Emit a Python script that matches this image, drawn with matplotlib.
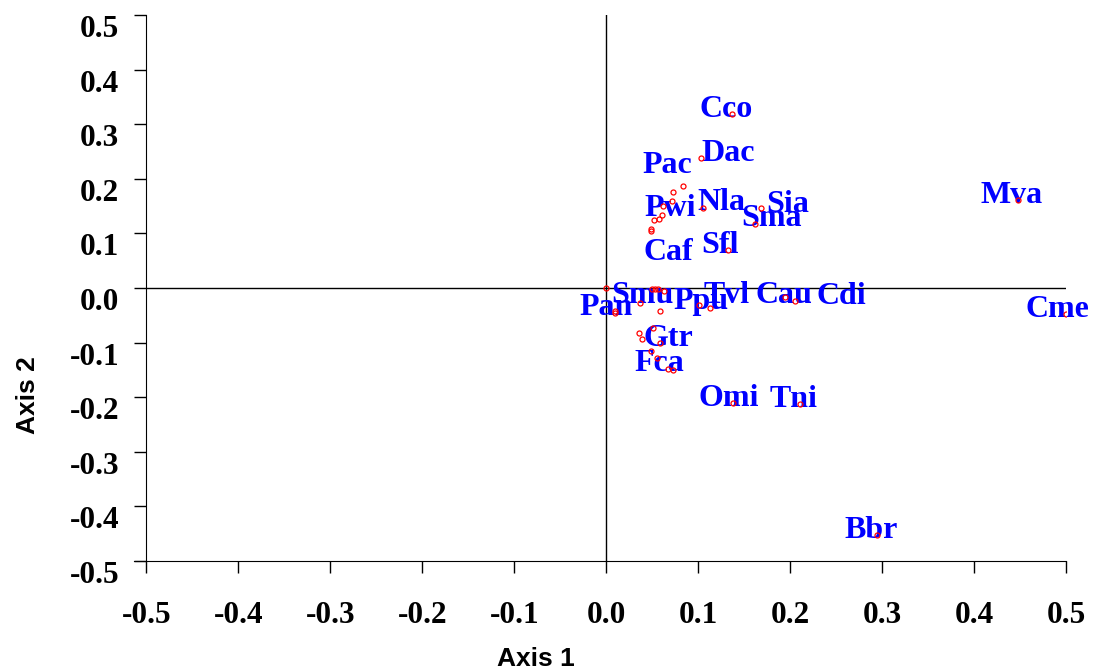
import numpy as np
import matplotlib.pyplot as plt

# Species labels (blue text) - position of label centre / baseline
species = ['Cco', 'Dac', 'Pac', 'Pwi', 'Nla', 'Sia', 'Sma', 'Sfl', 'Caf', 'Mva',
           'Cme', 'Cdi', 'Cau', 'Tvl', 'Ppu', 'Smu', 'Pan', 'Gtr', 'Fca', 'Omi',
           'Tni', 'Bbr']
sp_x = [0.130, 0.132, 0.066, 0.069, 0.125, 0.197, 0.180, 0.124, 0.068, 0.440,
        0.490, 0.256, 0.193, 0.131, 0.103, 0.039, 0.000, 0.068, 0.058, 0.133,
        0.204, 0.288]
sp_y = [0.313, 0.233, 0.211, 0.131, 0.142, 0.140, 0.114, 0.064, 0.051, 0.156,
        -0.053, -0.029, -0.027, -0.028, -0.039, -0.027, -0.049, -0.106, -0.152, -0.216,
        -0.218, -0.458]

# Site scores (red open circles)
site_x = [0.137, 0.103, 0.083, 0.072, 0.071, 0.062, 0.105, 0.060, 0.057, 0.052,
          0.049, 0.049, 0.168, 0.162, 0.132, 0.447, 0.500, 0.000, 0.050, 0.053,
          0.056, 0.063, 0.037, 0.009, 0.009, 0.058, 0.101, 0.113, 0.194, 0.205,
          0.035, 0.039, 0.051, 0.058, 0.049, 0.055, 0.067, 0.072, 0.138, 0.211,
          0.294]
site_y = [0.319, 0.238, 0.186, 0.175, 0.159, 0.150, 0.146, 0.134, 0.127, 0.124,
          0.108, 0.104, 0.147, 0.118, 0.069, 0.161, -0.048, 0.000, -0.001, -0.001,
          -0.001, -0.006, -0.027, -0.043, -0.046, -0.042, -0.032, -0.037, -0.017, -0.023,
          -0.082, -0.093, -0.074, -0.100, -0.115, -0.128, -0.149, -0.151, -0.210, -0.213,
          -0.452]

ticks = [-0.5, -0.4, -0.3, -0.2, -0.1, 0.0, 0.1, 0.2, 0.3, 0.4, 0.5]
tick_labels = ['-0.5', '-0.4', '-0.3', '-0.2', '-0.1', '0.0',
               '0.1', '0.2', '0.3', '0.4', '0.5']

fig = plt.figure(figsize=(10.95, 6.72), dpi=100)
ax = fig.add_axes([0.1336, 0.1652, 0.8402, 0.8125])

ax.axvline(0, color='black', lw=1, zorder=1)
ax.axhline(0, color='black', lw=1, zorder=1)

for name, x, y in zip(species, sp_x, sp_y):
    ax.text(x, y, name, color='blue', fontsize=23, fontweight='bold',
            family='Liberation Serif', ha='center', va='baseline', zorder=2)

ax.plot(site_x, site_y, 'o', mfc='none', mec='red', ms=3.6, mew=0.9, zorder=3)

ax.set_xlim(-0.5, 0.5)
ax.set_ylim(-0.5, 0.5)
ax.set_xticks(ticks)
ax.set_xticklabels(tick_labels)
ax.set_yticks(ticks)
ax.set_yticklabels(tick_labels, va='top')

for lab in ax.get_xticklabels() + ax.get_yticklabels():
    lab.set_fontfamily('Liberation Serif')
    lab.set_fontweight('bold')
    lab.set_fontsize(22.5)

ax.tick_params(axis='both', direction='out', length=8.5, width=1)
ax.tick_params(axis='x', pad=20)
ax.tick_params(axis='y', pad=11)

ax.spines['top'].set_visible(False)
ax.spines['right'].set_visible(False)
ax.spines['bottom'].set_bounds(-0.513, 0.5)

fig.text(536 / 1095, 1 - 659 / 672, 'Axis 1', fontsize=19, fontweight='bold',
         family='Liberation Sans', ha='center', va='center')
fig.text(28 / 1095, 1 - 395 / 672, 'Axis 2', fontsize=19, fontweight='bold',
         family='Liberation Sans', ha='center', va='center', rotation=90)

fig.savefig('out.png', dpi=100)
